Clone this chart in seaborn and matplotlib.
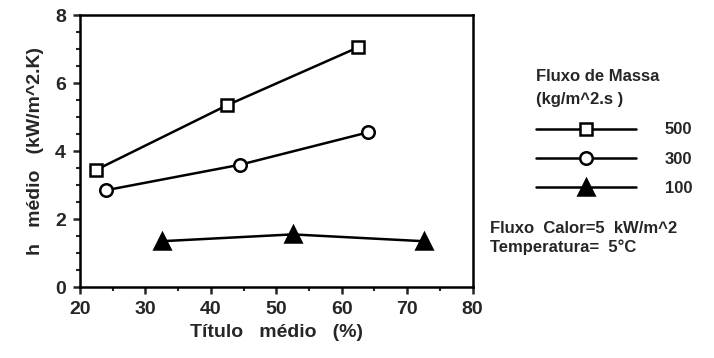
import matplotlib
matplotlib.use("Agg")
import matplotlib.pyplot as plt
import seaborn as sns
import pandas as pd
from matplotlib.lines import Line2D
from matplotlib.ticker import MultipleLocator

sns.set_theme(style="ticks")
plt.rcParams['font.family'] = ['Liberation Sans', 'DejaVu Sans']
plt.rcParams['font.weight'] = 'bold'

# Data
x_500 = [22.5, 42.5, 62.5]
y_500 = [3.45, 5.35, 7.05]
x_300 = [24.0, 44.5, 64.0]
y_300 = [2.85, 3.6, 4.55]
x_100 = [32.5, 52.5, 72.5]
y_100 = [1.35, 1.55, 1.35]
series_labels = ["500", "300", "100"]
x_ticks = [20, 30, 40, 50, 60, 70, 80]
y_ticks = [0, 2, 4, 6, 8]

df = pd.concat([
    pd.DataFrame({"x": x_500, "y": y_500, "fluxo": "500"}),
    pd.DataFrame({"x": x_300, "y": y_300, "fluxo": "300"}),
    pd.DataFrame({"x": x_100, "y": y_100, "fluxo": "100"}),
])

fig = plt.figure(figsize=(7.14, 3.58), dpi=100)
ax = fig.add_axes([0.112, 0.198, 0.550, 0.760])

styles = {
    "500": dict(marker="s", mfc="white", ms=9),
    "300": dict(marker="o", mfc="white", ms=9),
    "100": dict(marker="^", mfc="black", ms=11),
}
handles = []
for lab in series_labels:
    sub = df[df["fluxo"] == lab]
    st = styles[lab]
    sns.lineplot(data=sub, x="x", y="y", ax=ax, color="black", linewidth=1.8,
                 marker=st["marker"], markerfacecolor=st["mfc"], markeredgecolor="black",
                 markeredgewidth=1.8, markersize=st["ms"], legend=False)
    handles.append(Line2D([0], [0], color="black", linewidth=1.8, marker=st["marker"],
                          markerfacecolor=st["mfc"], markeredgecolor="black",
                          markeredgewidth=1.8, markersize=st["ms"], label=lab))

ax.set_xlim(20, 80)
ax.set_ylim(0, 8)
ax.set_xticks(x_ticks)
ax.set_yticks(y_ticks)
ax.xaxis.set_minor_locator(MultipleLocator(5))
ax.yaxis.set_minor_locator(MultipleLocator(0.5))
ax.tick_params(which="major", direction="out", length=5, width=1.8, labelsize=14, pad=5)
ax.tick_params(which="minor", direction="out", length=3, width=1.5)
for sp in ax.spines.values():
    sp.set_linewidth(1.8)
    sp.set_color("black")
for t in ax.get_xticklabels() + ax.get_yticklabels():
    t.set_fontweight("bold")

ax.set_xlabel("Título   médio   (%)", fontsize=14, fontweight="bold", labelpad=4)
ax.set_ylabel("h   médio   (kW/m^2.K)", fontsize=14, fontweight="bold", labelpad=8)

leg = fig.legend(handles=handles, loc="upper left", bbox_to_anchor=(0.73, 0.85),
                 frameon=False, handlelength=6.0, numpoints=1, fontsize=12,
                 handletextpad=1.7, labelspacing=0.85,
                 title="Fluxo de Massa\n(kg/m^2.s )", title_fontproperties={"weight": "bold", "size": 12})
leg._legend_box.align = "left"
leg._legend_box.sep = 11
leg.get_title().set_linespacing(1.7)
for t in leg.get_texts():
    t.set_fontweight("bold")

fig.text(0.686, 0.35, "Fluxo  Calor=5  kW/m^2", fontsize=12, fontweight="bold")
fig.text(0.686, 0.295, "Temperatura=  5°C", fontsize=12, fontweight="bold")

fig.savefig("out.png", dpi=100, facecolor="white")
